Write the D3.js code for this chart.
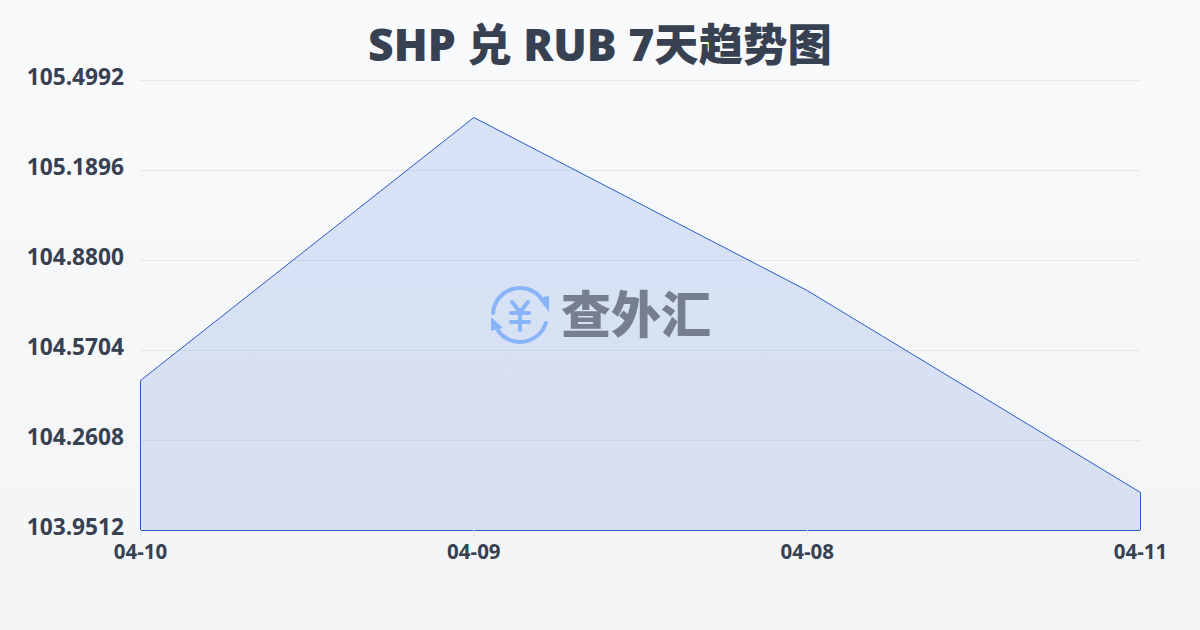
<!DOCTYPE html>
<html>
<head>
<meta charset="utf-8">
<script src="https://cdn.jsdelivr.net/npm/d3@7"></script>
<style>
html, body { margin: 0; padding: 0; }
body { width: 1200px; height: 630px; overflow: hidden; }
text { font-family: "Open Sans", "Noto Sans CJK SC", sans-serif; }
</style>
</head>
<body>
<div id="chart-area"></div>
<script>
// values
let dates = ["04-10", "04-09", "04-08", "04-11"];
let rates = [104.4672, 105.3719, 104.7768, 104.0819];
let yTicks = [103.9512, 104.2608, 104.5704, 104.8800, 105.1896, 105.4992];
let titleText = "SHP 兑 RUB 7天趋势图";
let brandText = "查外汇";

let margin = {top: 80, right: 60, bottom: 100, left: 140};
let width = 1200 - margin.left - margin.right;
let height = 630 - margin.top - margin.bottom;

let root = d3.select("#chart-area").append("svg")
	.attr("width", 1200)
	.attr("height", 630)
	.style("display", "block");

let defs = root.append("defs");
let bg = defs.append("linearGradient").attr("id", "bg")
	.attr("x1", 0).attr("y1", 0).attr("x2", 0).attr("y2", 1);
bg.append("stop").attr("offset", "0%").attr("stop-color", "#f9fafc");
bg.append("stop").attr("offset", "100%").attr("stop-color", "#f3f4f6");

let fillGrad = defs.append("linearGradient").attr("id", "areaFill")
	.attr("x1", 0).attr("y1", 0).attr("x2", 0).attr("y2", 1);
fillGrad.append("stop").attr("offset", "0%").attr("stop-color", "#1d64e0").attr("stop-opacity", 0.15);
fillGrad.append("stop").attr("offset", "100%").attr("stop-color", "#2a5fd0").attr("stop-opacity", 0.14);

root.append("rect").attr("width", 1200).attr("height", 630).attr("fill", "url(#bg)");

root.append("text")
	.attr("x", 600)
	.attr("y", 61)
	.attr("text-anchor", "middle")
	.attr("font-size", 44.4)
	.attr("font-weight", 800)
	.attr("fill", "#374151")
	.text(titleText);

let svg = root.append("g")
	.attr("transform", "translate(" + margin.left + "," + margin.top + ")");

let xscale = d3.scalePoint().domain(dates).range([0, width]);
let yscale = d3.scaleLinear().domain([yTicks[0], yTicks[yTicks.length - 1]]).range([height, 0]);

// grid lines
svg.append("g").selectAll("line")
	.data(yTicks.slice(1))
	.enter().append("line")
	.attr("x1", 0)
	.attr("x2", width)
	.attr("y1", d => yscale(d) + 0.5)
	.attr("y2", d => yscale(d) + 0.5)
	.attr("stroke", "#e5e7eb")
	.attr("stroke-width", 1);

// area + outline
let area = d3.area()
	.x((d, i) => xscale(dates[i]))
	.y0(height)
	.y1(d => yscale(d));

svg.append("path")
	.datum(rates)
	.attr("d", area)
	.attr("transform", "translate(0.5,0.5)")
	.attr("fill", "url(#areaFill)")
	.attr("stroke", "#2a5cc8")
	.attr("stroke-width", 1);

// axes
let xAxis = d3.axisBottom(xscale).tickSize(6).tickPadding(8);
let yAxis = d3.axisLeft(yscale).tickValues(yTicks).tickFormat(d3.format(".4f")).tickSize(0).tickPadding(16);

let xAxisGroup = svg.append("g").attr("transform", "translate(0," + height + ")").call(xAxis);
xAxisGroup.select(".domain").remove();
xAxisGroup.selectAll("line").attr("stroke", "#e5e7eb");
xAxisGroup.selectAll("text")
	.attr("font-size", 20.5)
	.attr("font-weight", 700)
	.attr("fill", "#374151")
	.style("font-family", '"Open Sans", sans-serif');

let yAxisGroup = svg.append("g").call(yAxis);
yAxisGroup.select(".domain").remove();
yAxisGroup.selectAll("text")
	.attr("font-size", 22.7)
	.attr("font-weight", 700)
	.attr("fill", "#374151")
	.attr("dy", "0.2em")
	.style("font-family", '"Open Sans", sans-serif');

// watermark
let mark = root.append("g").attr("transform", "translate(520,315)");
let arc = d3.arc().innerRadius(25).outerRadius(29).cornerRadius(2);
mark.append("path").attr("d", arc({startAngle: -1.57, endAngle: 0.9})).attr("fill", "#8ab4f8");
mark.append("path").attr("d", arc({startAngle: 1.8, endAngle: 4.15})).attr("fill", "#8ab4f8");
mark.append("path").attr("d", "M18,-17 L29,-19 L29,-3 Z").attr("fill", "#8ab4f8");
mark.append("path").attr("d", "M-29,2 L-17,13 L-29,16 Z").attr("fill", "#8ab4f8");
mark.append("path")
	.attr("d", "M-8,-13 L0,-3 L8,-13 M-9,-2 H9 M-9,7 H9 M0,-3 V15")
	.attr("fill", "none")
	.attr("stroke", "#8ab4f8")
	.attr("stroke-width", 4)
	.attr("stroke-linecap", "round")
	.attr("stroke-linejoin", "round");

root.append("text")
	.attr("x", 636)
	.attr("y", 333)
	.attr("text-anchor", "middle")
	.attr("font-size", 50)
	.attr("font-weight", 900)
	.attr("fill", "#767f8f")
	.style("font-family", '"Noto Sans CJK SC", sans-serif')
	.text(brandText);
</script>
</body>
</html>
